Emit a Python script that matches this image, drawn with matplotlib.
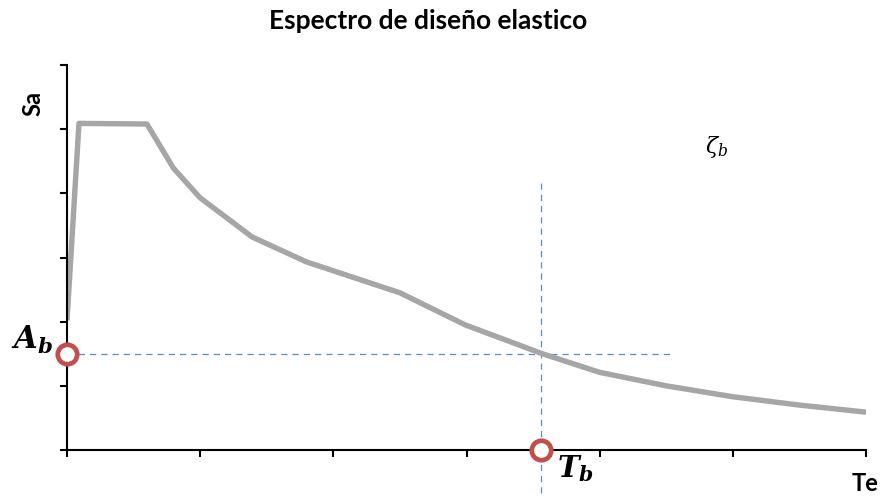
import matplotlib
matplotlib.use('Agg')
import matplotlib.pyplot as plt

# espectro (unidades arbitrarias)
te = [0.0, 0.09, 0.60, 0.80, 1.00, 1.39, 1.80, 2.50, 2.99, 3.57, 4.00, 4.50, 5.00, 5.50, 6.00]
sa = [2.02, 5.09, 5.08, 4.39, 3.93, 3.32, 2.93, 2.45, 1.95, 1.50, 1.21, 1.00, 0.83, 0.70, 0.59]

tb = 3.56   # periodo T_b
ab = 1.50   # aceleracion A_b
h_end = 4.53
v_top = 4.16
v_bot = -0.70

xticks = [0, 1, 2, 3, 4, 5, 6]
yticks = [0, 1, 2, 3, 4, 5, 6]

plt.rcParams['mathtext.fontset'] = 'dejavuserif'

fig = plt.figure(figsize=(8.83, 4.98), dpi=100)
ax = fig.add_axes([67/883, 1-450/498, (866-67)/883, (450-65)/498])

ax.plot(te, sa, color='#a6a6a6', linewidth=3.9, solid_capstyle='butt', zorder=2)

# lineas guia
ax.plot([0, h_end], [ab, ab], color='#5b8bd0', linewidth=0.9, dashes=(5, 4), zorder=1)
ax.plot([tb, tb], [v_top, v_bot], color='#5b8bd0', linewidth=0.9, dashes=(5, 4),
        zorder=1, clip_on=False)

# puntos
ax.plot([0, tb], [ab, 0], 'o', markersize=14, markerfacecolor='white',
        markeredgecolor='#c0504d', markeredgewidth=3.4, clip_on=False, zorder=5)

ax.set_xlim(0, 6)
ax.set_ylim(0, 6)
ax.set_xticks(xticks)
ax.set_yticks(yticks)
ax.set_xticklabels([])
ax.set_yticklabels([])
ax.tick_params(direction='out', length=5, width=1.5, color='black')
for s in ['top', 'right']:
    ax.spines[s].set_visible(False)
for s in ['left', 'bottom']:
    ax.spines[s].set_linewidth(1.5)

ax.text(-0.42, 1.57, r'$\mathbfit{A}_{\mathbfit{b}}$', fontsize=22, va='baseline', ha='left', clip_on=False)
ax.text(3.68, -0.42, r'$\mathbfit{T}_{\mathbfit{b}}$', fontsize=21, va='baseline', ha='left', clip_on=False)
ax.text(4.88, 4.72, r'$\zeta_b$', fontsize=16, va='center', ha='center')

fig.text(428/883, 1-21/498, 'Espectro de diseño elastico', fontsize=19, fontweight='bold',
         family='Lato', ha='center', va='center')
fig.text(33/883, 1-103/498, 'Sa', fontsize=17, fontweight='bold', family='Lato',
         rotation=90, ha='center', va='center')
fig.text(865/883, 1-483/498, 'Te', fontsize=17, fontweight='bold', family='Lato',
         ha='center', va='center')

fig.savefig('out.png', dpi=100)
